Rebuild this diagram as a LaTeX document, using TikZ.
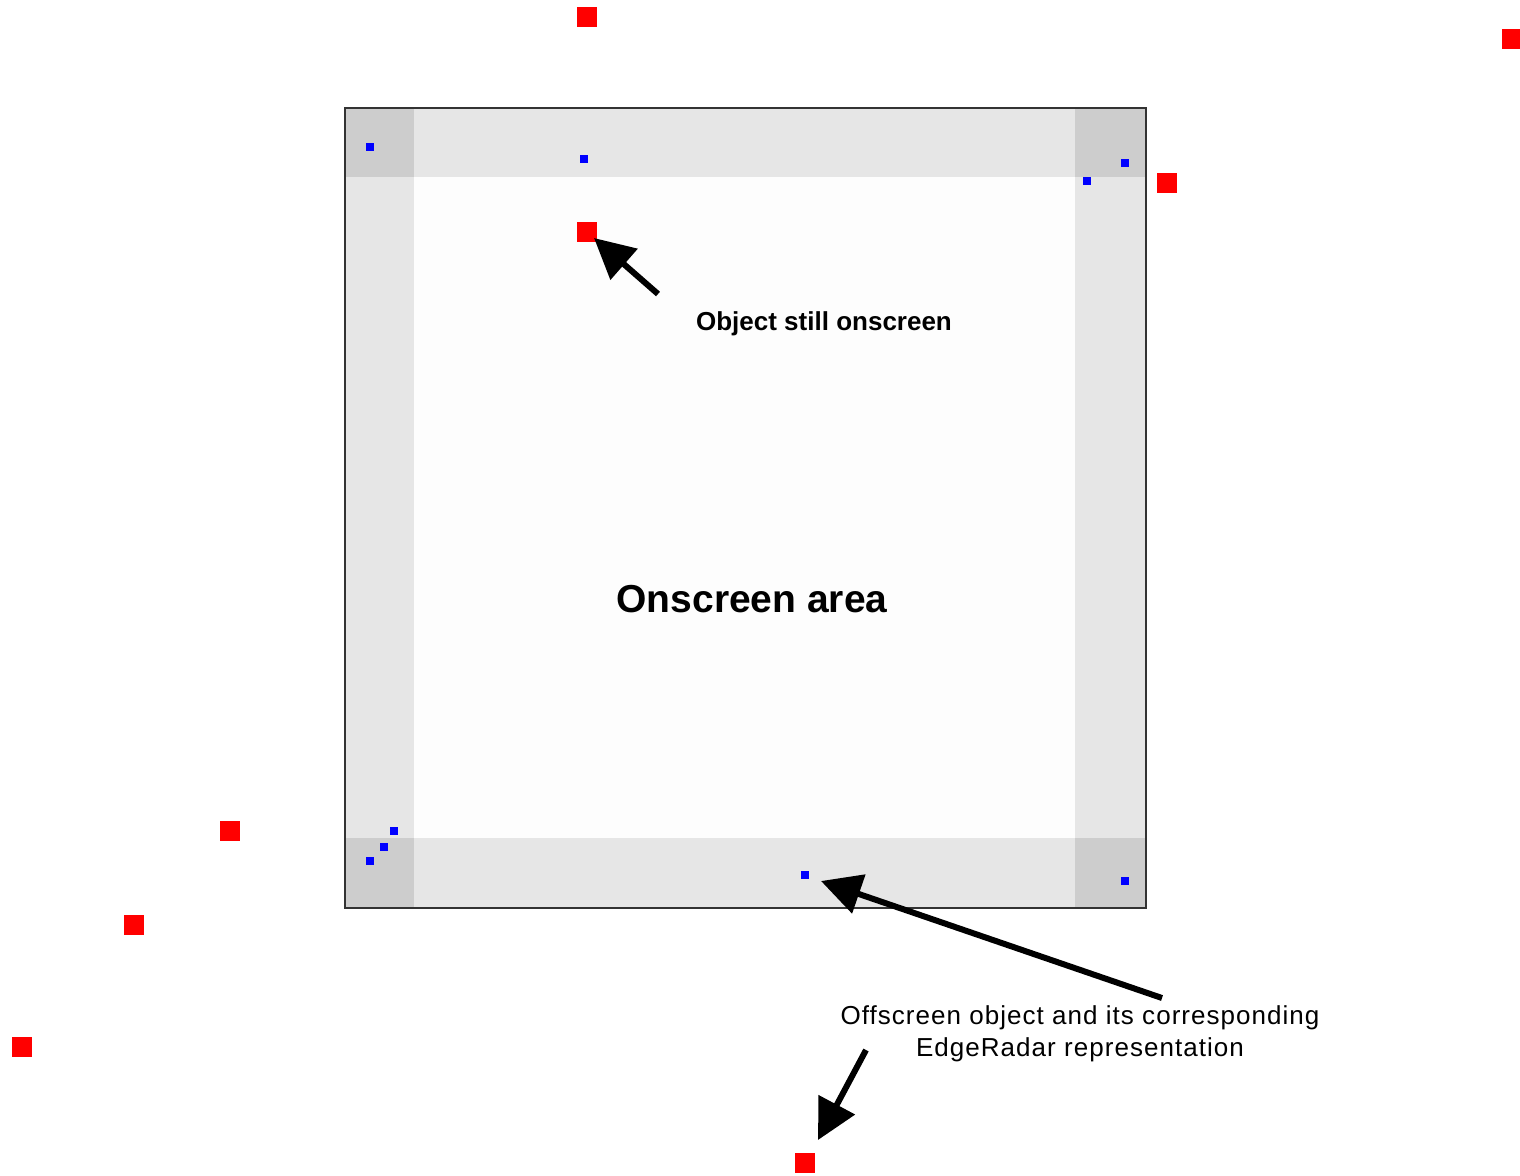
\documentclass[tikz,border=0pt]{standalone}
\usepackage{fontspec}
\setmainfont{Liberation Sans}
\usetikzlibrary{arrows.meta}
\definecolor{band}{HTML}{E6E6E6}
\definecolor{corner}{HTML}{CDCDCD}
\definecolor{inner}{HTML}{FDFDFD}
\definecolor{frame}{HTML}{333333}
\tikzset{
  obj/.style={fill=red, draw=none, minimum size=10pt, inner sep=0pt},
  radar/.style={fill=blue, draw=none, minimum size=4pt, inner sep=0pt},
  callout/.style={line width=3pt, -{Triangle[length=20pt,width=20pt]}},
  lbl/.style={font=\fontsize{13pt}{16pt}\selectfont, align=center, inner sep=0pt}
}
\begin{document}
\begin{tikzpicture}[x=0.5pt,y=-0.5pt]
\useasboundingbox (0,0) rectangle (1520,1175);
\clip (0,0) rectangle (1520,1175);
% screen
\fill[band] (345,108) rectangle (1146,908);
\fill[inner] (414,177) rectangle (1075,838);
\fill[corner] (345,108) rectangle (414,177);
\fill[corner] (1075,108) rectangle (1146,177);
\fill[corner] (345,838) rectangle (414,908);
\fill[corner] (1075,838) rectangle (1146,908);
\draw[frame, line width=1pt] (345,108) rectangle (1146,908);
\node[font=\bfseries\fontsize{19.5pt}{23pt}\selectfont, inner sep=0pt] (area) at (752,599) {Onscreen area};
% radar markers
\node[radar] (b1) at (370,147) {};
\node[radar] (b2) at (584,159) {};
\node[radar] (b3) at (1125,163) {};
\node[radar] (b4) at (1087,181) {};
\node[radar] (b5) at (394,831) {};
\node[radar] (b6) at (384,847) {};
\node[radar] (b7) at (370,861) {};
\node[radar] (b8) at (805,875) {};
\node[radar] (b9) at (1125,881) {};
% objects
\node[obj] (r1) at (587,17) {};
\node[obj] (r2) at (1512,39) {};
\node[obj] (r3) at (1167,183) {};
\node[obj] (r4) at (587,232) {};
\node[obj] (r5) at (230,831) {};
\node[obj] (r6) at (134,925) {};
\node[obj] (r7) at (22,1047) {};
\node[obj] (r8) at (805,1163) {};
% labels
\node[lbl, font=\bfseries\fontsize{13pt}{16pt}\selectfont, anchor=base] (l1) at (824,330) {Object still onscreen};
\node[lbl, anchor=base, font=\addfontfeatures{LetterSpace=4}\fontsize{13pt}{16pt}\selectfont] (l2) at (1080,1024) {Offscreen object and its corresponding};
\node[lbl, anchor=base, font=\addfontfeatures{LetterSpace=4}\fontsize{13pt}{16pt}\selectfont] (l3) at (1080,1056) {EdgeRadar representation};
% arrows
\coordinate (a1s) at (658,294);
\coordinate (a1e) at (594,238);
\coordinate (a2s) at (1162,998);
\coordinate (a2e) at (821,881);
\coordinate (a3s) at (866,1050);
\coordinate (a3e) at (818,1140);
\draw[callout] (a1s) -- (a1e);
\draw[callout] (a2s) -- (a2e);
\draw[callout] (a3s) -- (a3e);
\end{tikzpicture}
\end{document}
